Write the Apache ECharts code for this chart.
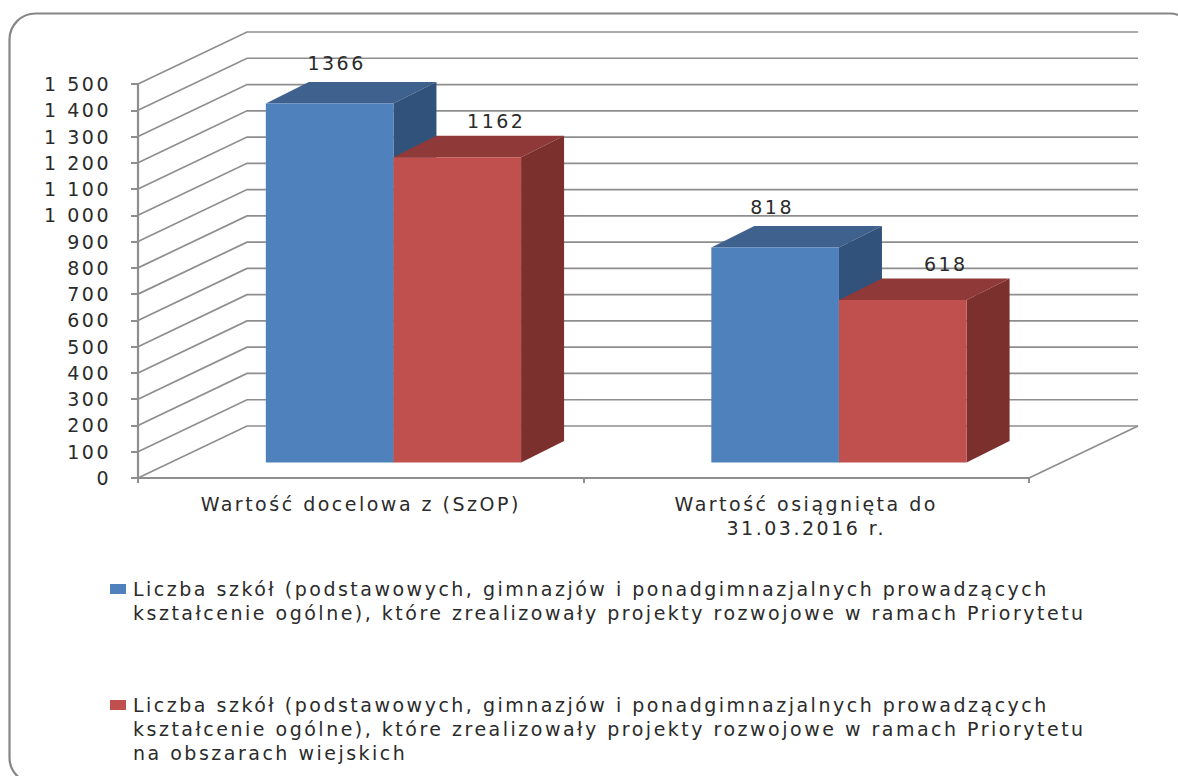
<!DOCTYPE html>
<html>
<head>
<meta charset="utf-8">
<title>Liczba szkół</title>
<style>
html, body { margin: 0; padding: 0; background: #fff; }
#chart { width: 1178px; height: 776px; overflow: hidden; }
/* oryginal jest rozciagniety w poziomie */
#chart text { letter-spacing: 2.5px; }
</style>
<script src="https://cdn.jsdelivr.net/npm/echarts@6/dist/echarts.min.js"></script>
</head>
<body>
<div id="chart"></div>
<script>
var categories = ['Wartość docelowa z (SzOP)', 'Wartość osiągnięta do\n31.03.2016 r.'];
var seriesNames = [
	'Liczba szkół (podstawowych, gimnazjów i ponadgimnazjalnych prowadzących\nkształcenie ogólne), które zrealizowały projekty rozwojowe w ramach Priorytetu',
	'Liczba szkół (podstawowych, gimnazjów i ponadgimnazjalnych prowadzących\nkształcenie ogólne), które zrealizowały projekty rozwojowe w ramach Priorytetu\nna obszarach wiejskich'
];
var schoolsAll = [1366, 818];
var schoolsRural = [1162, 618];
var yTicks = [0, 100, 200, 300, 400, 500, 600, 700, 800, 900, 1000, 1100, 1200, 1300, 1400, 1500];

var FONT = 'DejaVu Sans';
var TEXT = '#2b2b2b';
var LINE = '#8e8e8e';
var WALL_DX = 109, WALL_DY = 52;	// przesuniecie tylnej sciany
var BAR_DX = 43, BAR_DY = 21.5;		// glebokosc slupka
var FRONT_GAP = 0.3;				// odsuniecie slupkow od przedniej krawedzi

var palette = [
	{ front: '#4f81bd', top: '#3e618e', side: '#31527a', labelDx: [7, -3], labelDy: -41 },
	{ front: '#c0504d', top: '#8f3a38', side: '#7b302e', labelDx: [39, 43], labelDy: -36 }
];

function wallItem(params, api) {
	var c = params.coordSys;
	var y = api.coord([0, api.value(1)])[1];
	var x0 = c.x, x1 = c.x + c.width;
	return {
		type: 'polyline',
		shape: { points: [[x0, y], [x0 + WALL_DX, y - WALL_DY], [x1 + WALL_DX, y - WALL_DY]] },
		style: { fill: null, stroke: LINE, lineWidth: 1.7 },
		silent: true
	};
}

function floorItem(params, api) {
	var c = params.coordSys;
	var y = api.coord([0, 0])[1];
	var x1 = c.x + c.width;
	return {
		type: 'line',
		shape: { x1: x1, y1: y, x2: x1 + WALL_DX, y2: y - WALL_DY },
		style: { stroke: LINE, lineWidth: 1.7 },
		silent: true
	};
}

function barRenderer(idx) {
	return function(params, api) {
		var s = palette[idx];
		var v = api.value(1);
		var band = api.size([1, 0])[0];
		var w = band * 0.2865;
		var liftX = WALL_DX * FRONT_GAP, liftY = WALL_DY * FRONT_GAP;
		var cx = api.coord([api.value(0), 0])[0] + liftX;
		var x0 = cx - w + idx * w, x1 = x0 + w;
		var base = api.coord([0, 0])[1] - liftY;
		var top = api.coord([0, v])[1] - liftY;
		return {
			type: 'group',
			children: [
				{ type: 'polygon', shape: { points: [[x0, top], [x0 + BAR_DX, top - BAR_DY], [x1 + BAR_DX, top - BAR_DY], [x1, top]] }, style: { fill: s.top } },
				{ type: 'polygon', shape: { points: [[x1, top], [x1 + BAR_DX, top - BAR_DY], [x1 + BAR_DX, base - BAR_DY], [x1, base]] }, style: { fill: s.side } },
				{ type: 'rect', shape: { x: x0, y: top, width: w, height: base - top }, style: { fill: s.front } },
				{ type: 'text', style: { x: (x0 + x1) / 2 + s.labelDx[params.dataIndex], y: top + s.labelDy, text: String(v), fill: TEXT, font: '19px "' + FONT + '"', align: 'center', verticalAlign: 'middle' } }
			]
		};
	};
}

function toPairs(values) {
	return values.map(function(v, i) { return [i, v]; });
}

// znacznik legendy przy pierwszym wierszu tekstu, a nie w srodku bloku
function legendOption(name, top, h) {
	return {
		orient: 'vertical',
		left: 110,
		top: top,
		padding: 0,
		itemWidth: 18,
		itemHeight: h,
		selectedMode: false,
		data: [{ name: name, icon: 'path://M0 7H16V17H0Z M18 0H18Z M18 ' + h + 'H18Z' }],
		textStyle: { fontFamily: FONT, fontSize: 19, lineHeight: 24, color: TEXT }
	};
}

var chart = echarts.init(document.getElementById('chart'), null, { renderer: 'svg' });
chart.setOption({
	backgroundColor: '#ffffff',
	animation: false,
	textStyle: { fontFamily: FONT },
	graphic: [{
		type: 'rect',
		silent: true,
		shape: { x: 9.5, y: 13.5, width: 1186, height: 770, r: 26 },
		style: { fill: 'none', stroke: '#868686', lineWidth: 2.2 }
	}],
	grid: { left: 138, right: 149, top: 84, bottom: 298 },
	legend: [legendOption(seriesNames[0], 577, 48), legendOption(seriesNames[1], 693, 72)],
	xAxis: {
		type: 'category',
		data: categories,
		axisLine: { lineStyle: { color: LINE, width: 2.2 } },
		axisTick: { show: true, length: 5, lineStyle: { color: LINE, width: 2 } },
		axisLabel: { color: TEXT, fontFamily: FONT, fontSize: 19, lineHeight: 24, margin: 14, interval: 0 }
	},
	yAxis: {
		type: 'value',
		min: 0,
		max: 1500,
		interval: 100,
		splitLine: { show: false },
		axisLine: { show: true, lineStyle: { color: LINE, width: 2.2 } },
		axisTick: { show: true, length: 7, lineStyle: { color: LINE, width: 2 } },
		axisLabel: {
			color: TEXT,
			fontFamily: FONT,
			fontSize: 19,
			margin: 27,
			formatter: function(v) {
				return v >= 1000 ? Math.floor(v / 1000) + ' ' + String(v % 1000 + 1000).slice(1) : String(v);
			}
		}
	},
	series: [
		{ type: 'custom', name: 'wall', silent: true, renderItem: wallItem, data: yTicks.map(function(v) { return [0, v]; }), z: 1 },
		{ type: 'custom', name: 'floor', silent: true, renderItem: floorItem, data: [[0, 0]], z: 1 },
		{ type: 'custom', name: seriesNames[0], renderItem: barRenderer(0), data: toPairs(schoolsAll), itemStyle: { color: palette[0].front }, z: 2 },
		{ type: 'custom', name: seriesNames[1], renderItem: barRenderer(1), data: toPairs(schoolsRural), itemStyle: { color: palette[1].front }, z: 3 }
	]
});
</script>
</body>
</html>
